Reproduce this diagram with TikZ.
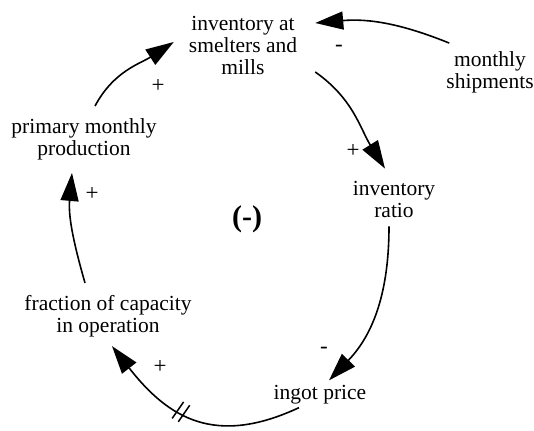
\documentclass[tikz,border=0pt]{standalone}
\usepackage{fontspec}
\setmainfont{Liberation Serif}
\usetikzlibrary{arrows.meta, decorations.markings}

\tikzset{
  var/.style={inner sep=0pt, align=center, font=\fontsize{21.5}{22}\selectfont},
  sign/.style={inner sep=0pt, font=\fontsize{23}{24}\selectfont},
  link/.style={line width=1.6pt, -{Triangle[length=28pt,width=18pt]}},
  delaymark/.style={postaction={decorate}, decoration={markings,
    mark=at position #1 with {\draw[line width=1.5pt, -] (-4,-10) -- (-2,10) (3,-10) -- (5,10);}}}
}

\begin{document}
\begin{tikzpicture}[x=1pt, y=1pt]
  \useasboundingbox (0,0) rectangle (534,-430);

  % variables of the loop
  \node[var] (inv)   at (243,-45)  {inventory at\\smelters and\\mills};
  \node[var] (ship)  at (490,-72)  {monthly\\shipments};
  \node[var] (ratio) at (394,-199) {inventory\\ratio};
  \node[var] (price) at (320,-395) {ingot price};
  \node[var] (frac)  at (108,-316) {fraction of capacity\\in operation};
  \node[var] (prod)  at (84,-139)  {primary monthly\\production};

  % loop polarity
  \node[font=\fontsize{30}{32}\selectfont\bfseries] (loop) at (247,-219) {(-)};

  % causal links
  \draw[link] ([shift={(3,8)}]ship.north west) to[out=158, in=5] ([shift={(18,22)}]inv.east);
  \draw[link] ([shift={(18,-27)}]inv.east) to[out=-35, in=122] ([shift={(-9,12)}]ratio.north);
  \draw[link] ([shift={(-5,-9)}]ratio.south) to[out=-90, in=46] ([shift={(9,5)}]price.north);
  \draw[link, delaymark=0.56] ([shift={(-21,-3)}]price.south) to[out=-155, in=-52, looseness=1.2] ([shift={(4,-9)}]frac.south);
  \draw[link] ([shift={(-23,12)}]frac.north) to[out=106, in=-95] ([shift={(-12,-13)}]prod.south);
  \draw[link] ([shift={(11,12)}]prod.north) to[out=62, in=-147] ([shift={(-15,3)}]inv.west);

  % link signs
  \node[sign] (s1) at (339,-48)  {-};
  \node[sign] (s2) at (353,-151) {+};
  \node[sign] (s3) at (324,-350) {-};
  \node[sign] (s4) at (160,-367) {+};
  \node[sign] (s5) at (92,-194)  {+};
  \node[sign] (s6) at (158,-86)  {+};
\end{tikzpicture}
\end{document}
